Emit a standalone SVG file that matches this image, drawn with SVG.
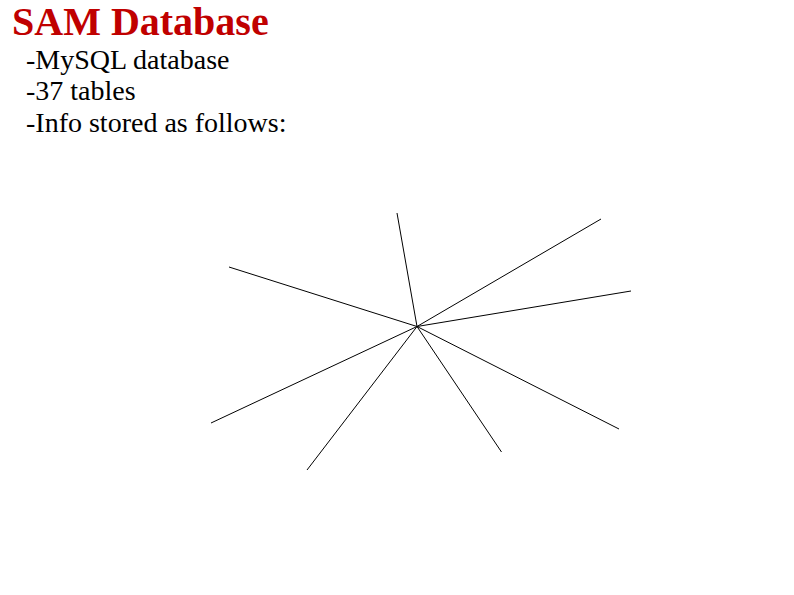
<svg xmlns="http://www.w3.org/2000/svg" width="794" height="595" viewBox="0 0 794 595">
<style>
.title{font-family:"Liberation Serif","Times New Roman",serif;font-weight:bold;font-size:40px;fill:#C00000}
.body{font-family:"Liberation Serif","Times New Roman",serif;font-size:28px;fill:#000}
.ray{stroke:#000;stroke-width:1;fill:none}
</style>
<rect width="794" height="595" fill="#fff"/>
<g id="title"><text class="title" x="12" y="35">SAM Database</text></g>
<g id="bullets">
<text class="body" x="26" y="69">-MySQL database</text>
<text class="body" x="26" y="100">-37 tables</text>
<text class="body" x="26" y="132">-Info stored as follows:</text>
</g>
<g id="connectors">
<line class="ray" x1="417" y1="326.5" x2="397" y2="213"/>
<line class="ray" x1="417" y1="326.5" x2="601" y2="219"/>
<line class="ray" x1="417" y1="326.5" x2="631" y2="291"/>
<line class="ray" x1="417" y1="326.5" x2="619" y2="429"/>
<line class="ray" x1="417" y1="326.5" x2="501.5" y2="452"/>
<line class="ray" x1="417" y1="326.5" x2="307" y2="470"/>
<line class="ray" x1="417" y1="326.5" x2="211" y2="423"/>
<line class="ray" x1="417" y1="326.5" x2="229" y2="267"/>
</g>
</svg>
